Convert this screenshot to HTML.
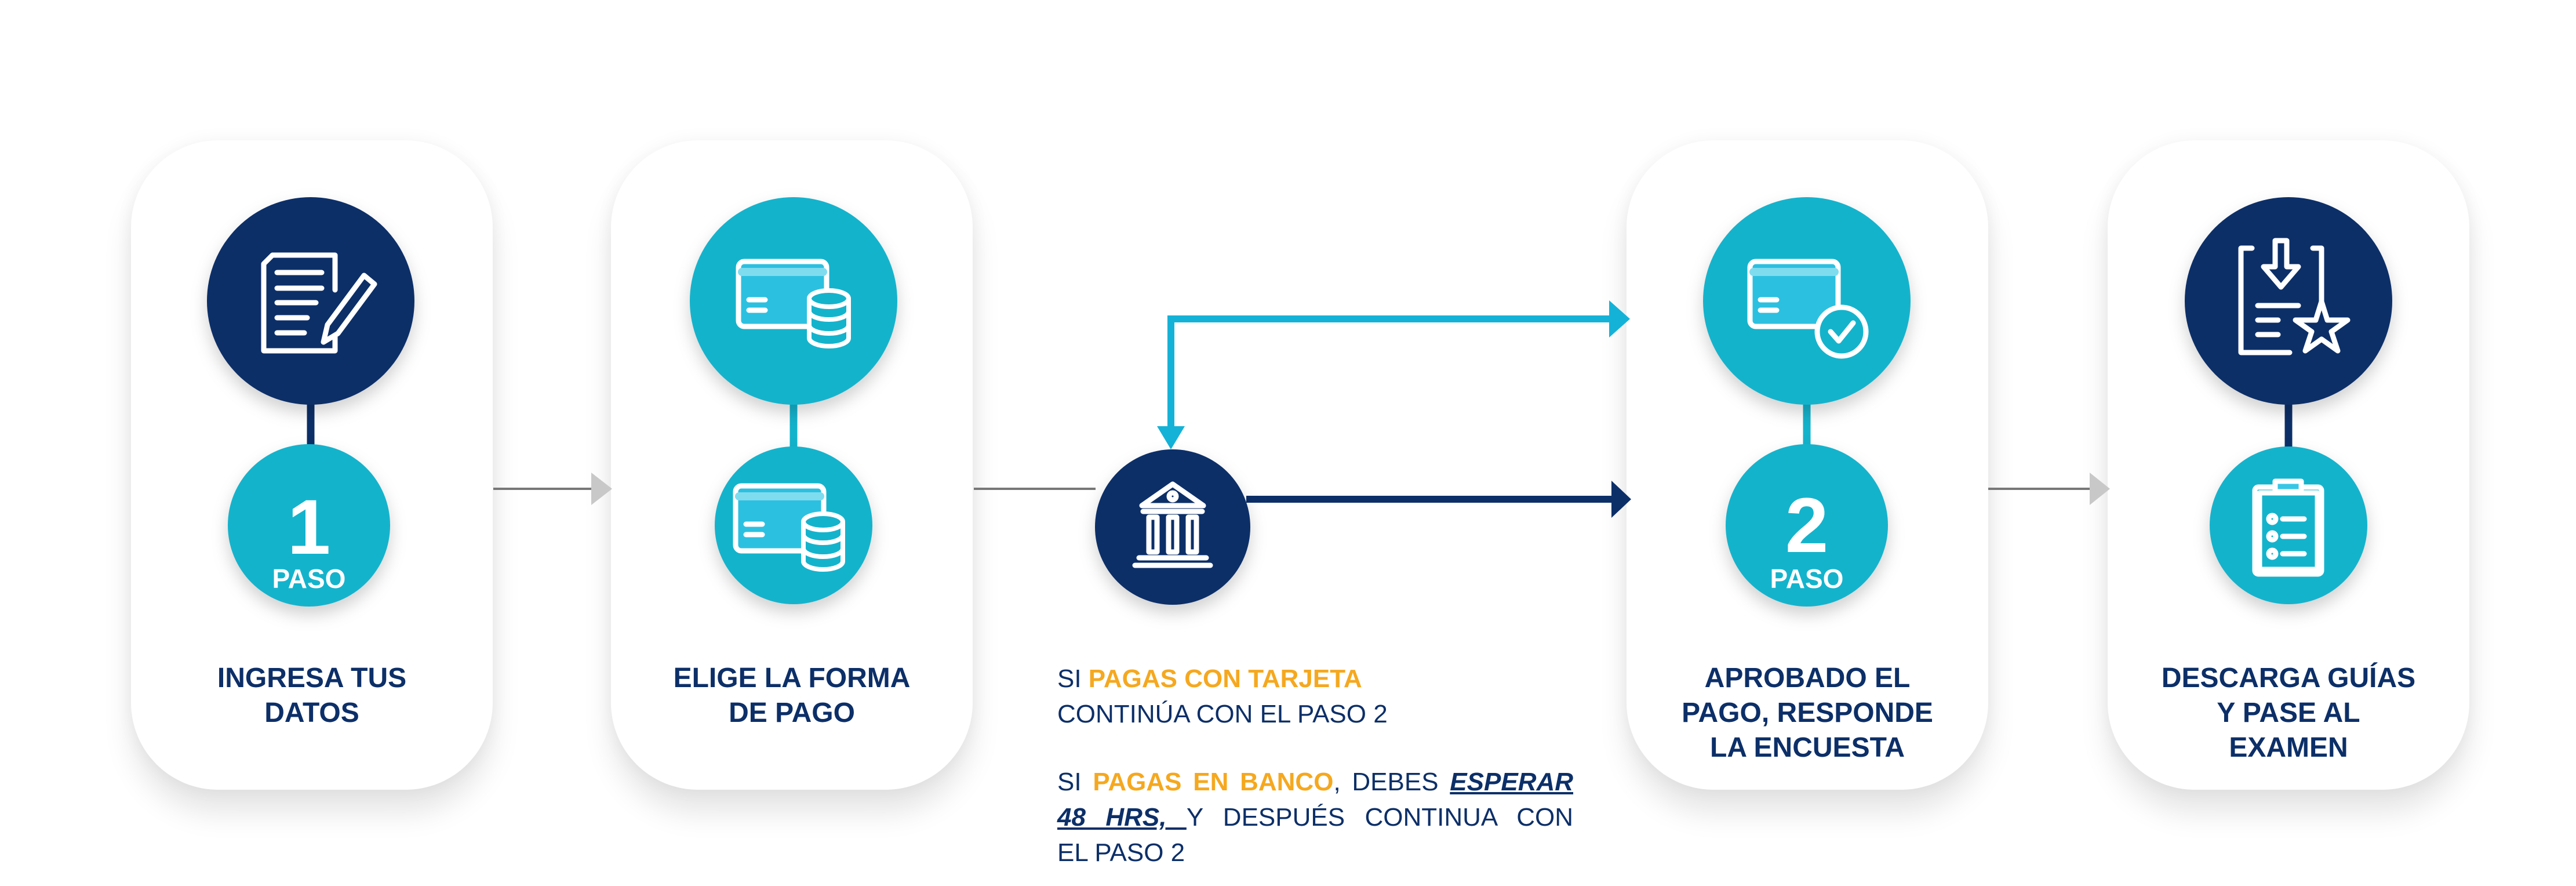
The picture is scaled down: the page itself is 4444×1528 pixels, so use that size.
<!DOCTYPE html>
<html><head><meta charset="utf-8"><style>
html,body{margin:0;padding:0;background:#fff}
body{width:4444px;height:1528px;position:relative;overflow:hidden;font-family:"Liberation Sans",sans-serif}
.card{position:absolute;top:242px;width:624px;height:1120px;background:#fff;border-radius:150px;box-shadow:0 40px 50px rgba(0,0,0,0.10),0 0 30px rgba(0,0,0,0.05)}
.t{position:absolute;color:#0c2f68;font-weight:bold;font-size:48px;text-align:center;line-height:60px;width:624px}
.p{position:absolute;left:1824px;width:890px;font-size:44px;line-height:61px;color:#0c2f68}
.j{text-align:justify;text-align-last:justify}
.o{color:#f5a81f;font-weight:bold}
.u{font-weight:bold;font-style:italic;text-decoration:underline}
</style></head><body>
<div class="card" style="left:226px"></div>
<div class="card" style="left:1054px"></div>
<div class="card" style="left:2806px"></div>
<div class="card" style="left:3636px"></div>

<svg width="4444" height="1528" style="position:absolute;left:0;top:0">
<defs>
<g id="cardi" fill="none" stroke="#fff" stroke-width="9" stroke-linejoin="round" stroke-linecap="round">
 <rect x="-76" y="-62" width="152" height="112" rx="10" fill="#2cc0e0"/>
 <line x1="-70" y1="-44" x2="70" y2="-44" stroke-width="14" stroke="#7fdcef"/>
 <line x1="-58" y1="4" x2="-30" y2="4"/><line x1="-58" y1="22" x2="-30" y2="22"/>
</g>
<g id="coins" fill="#14b3cc" stroke="#fff" stroke-width="8">
 <path d="M-34 -30 L-34 38 A34 14 0 0 0 34 38 L34 -30"/>
 <ellipse cx="0" cy="-30" rx="34" ry="14"/>
 <path d="M-34 -8 A34 14 0 0 0 34 -8 M-34 16 A34 14 0 0 0 34 16" fill="none"/>
</g>
</defs>
<g stroke="#777" stroke-width="4"><line x1="851" y1="843" x2="1030" y2="843"/><line x1="1680" y1="843" x2="1890" y2="843"/><line x1="3430" y1="843" x2="3610" y2="843"/></g>
<g fill="#c8c8c8"><polygon points="1020,815 1056,843 1020,871"/><polygon points="3605,815 3640,843 3605,871"/></g>
<g stroke-width="13"><line x1="536" y1="690" x2="536" y2="780" stroke="#0c2f68"/><line x1="1369" y1="690" x2="1369" y2="780" stroke="#14b3cc"/><line x1="3117" y1="690" x2="3117" y2="780" stroke="#14b3cc"/><line x1="3948" y1="690" x2="3948" y2="780" stroke="#0c2f68"/></g>
<polyline points="2020,740 2020,550 2780,550" fill="none" stroke="#15b2d8" stroke-width="12"/>
<polygon points="1996,735 2044,735 2020,775" fill="#15b2d8"/>
<polygon points="2776,518 2812,550 2776,582" fill="#15b2d8"/>
<line x1="2150" y1="861" x2="2785" y2="861" stroke="#0c2f68" stroke-width="12"/>
<polygon points="2780,829 2814,861 2780,893" fill="#0c2f68"/>
<g style="filter:drop-shadow(0 14px 14px rgba(0,0,0,0.18))">
<circle cx="536" cy="519" r="179" fill="#0c2f68"/>
<circle cx="1369" cy="519" r="179" fill="#14b3cc"/>
<circle cx="3117" cy="519" r="179" fill="#14b3cc"/>
<circle cx="3948" cy="519" r="179" fill="#0c2f68"/>
<circle cx="533" cy="906" r="140" fill="#14b3cc"/>
<circle cx="1369" cy="906" r="136" fill="#14b3cc"/>
<circle cx="3117" cy="906" r="140" fill="#14b3cc"/>
<circle cx="3948" cy="906" r="136" fill="#14b3cc"/>
<circle cx="2023" cy="909" r="134" fill="#0c2f68"/>
</g>
<use href="#cardi" x="1350" y="513"/>
<use href="#coins" x="1430" y="545"/>
<use href="#cardi" x="1345" y="900"/>
<use href="#coins" x="1420" y="930"/>
<use href="#cardi" x="3095" y="513"/>
<g fill="none" stroke="#fff" stroke-width="9" stroke-linejoin="round" stroke-linecap="round">
 <path d="M470 440 L578 440 L578 500 M578 580 L578 605 L455 605 L455 455 L470 440"/>
 <line x1="478" y1="470" x2="555" y2="470"/><line x1="478" y1="497" x2="555" y2="497"/><line x1="478" y1="522" x2="545" y2="522"/><line x1="478" y1="548" x2="530" y2="548"/><line x1="478" y1="574" x2="525" y2="574"/>
 <path d="M628 475 L565 560 L558 590 L583 575 L646 490 Z" fill="#0c2f68"/>
 <circle cx="3177" cy="572" r="42" fill="#14b3cc"/><path d="M3158 572 L3172 588 L3197 557"/>
 <path d="M3885 428 L3866 428 L3866 608 L3950 608 M4005 520 L4005 428 L3990 428"/>
 <path d="M3925 415 L3925 460 L3905 460 L3935 495 L3965 460 L3945 460 L3945 415 Z"/>
 <line x1="3895" y1="527" x2="3965" y2="527"/><line x1="3895" y1="552" x2="3930" y2="552"/><line x1="3895" y1="577" x2="3930" y2="577"/>
 <path d="M4005 520 L4015 552 L4050 552 L4022 572 L4033 605 L4005 585 L3977 605 L3988 572 L3960 552 L3995 552 Z" fill="#0c2f68"/>
 <rect x="3890" y="840" width="115" height="150" rx="6"/><rect x="3898" y="850" width="100" height="132"/>
 <path d="M3925 830 L3970 830 L3970 848 L3925 848 Z" fill="#38c6e6"/>
 <circle cx="3920" cy="895" r="6"/><circle cx="3920" cy="925" r="6"/><circle cx="3920" cy="955" r="6"/>
 <line x1="3938" y1="895" x2="3975" y2="895"/><line x1="3938" y1="925" x2="3975" y2="925"/><line x1="3938" y1="955" x2="3975" y2="955"/>
 <path d="M1970 872 L2023 835 L2076 872 Z"/><circle cx="2023" cy="856" r="6"/>
 <line x1="1972" y1="882" x2="2074" y2="882"/>
 <rect x="1982" y="892" width="14" height="60"/><rect x="2016" y="892" width="14" height="60"/><rect x="2050" y="892" width="14" height="60"/>
 <line x1="1965" y1="962" x2="2081" y2="962"/><line x1="1958" y1="975" x2="2088" y2="975"/>
</g>
<g fill="#fff" font-family="Liberation Sans, sans-serif" font-weight="bold" text-anchor="middle">
 <text x="533" y="955" font-size="134">1</text>
 <text x="533" y="1014" font-size="46">PASO</text>
 <text x="3117" y="952" font-size="134">2</text>
 <text x="3117" y="1014" font-size="46">PASO</text>
</g>
</svg>

<div class="t" style="left:226px;top:1140px">INGRESA TUS<br>DATOS</div>
<div class="t" style="left:1054px;top:1140px">ELIGE LA FORMA<br>DE PAGO</div>
<div class="t" style="left:2806px;top:1140px">APROBADO EL<br>PAGO, RESPONDE<br>LA ENCUESTA</div>
<div class="t" style="left:3636px;top:1140px">DESCARGA GUÍAS<br>Y PASE AL<br>EXAMEN</div>

<div class="p" style="top:1140px">SI <span class="o">PAGAS CON TARJETA</span><br>CONTINÚA CON EL PASO 2</div>
<div class="p" style="top:1318px">
<div class="j">SI <span class="o">PAGAS EN BANCO</span>, DEBES <span class="u">ESPERAR</span></div>
<div class="j"><span class="u">48 HRS, </span> Y DESPUÉS CONTINUA CON</div>
<div>EL PASO 2</div>
</div>
</body></html>
